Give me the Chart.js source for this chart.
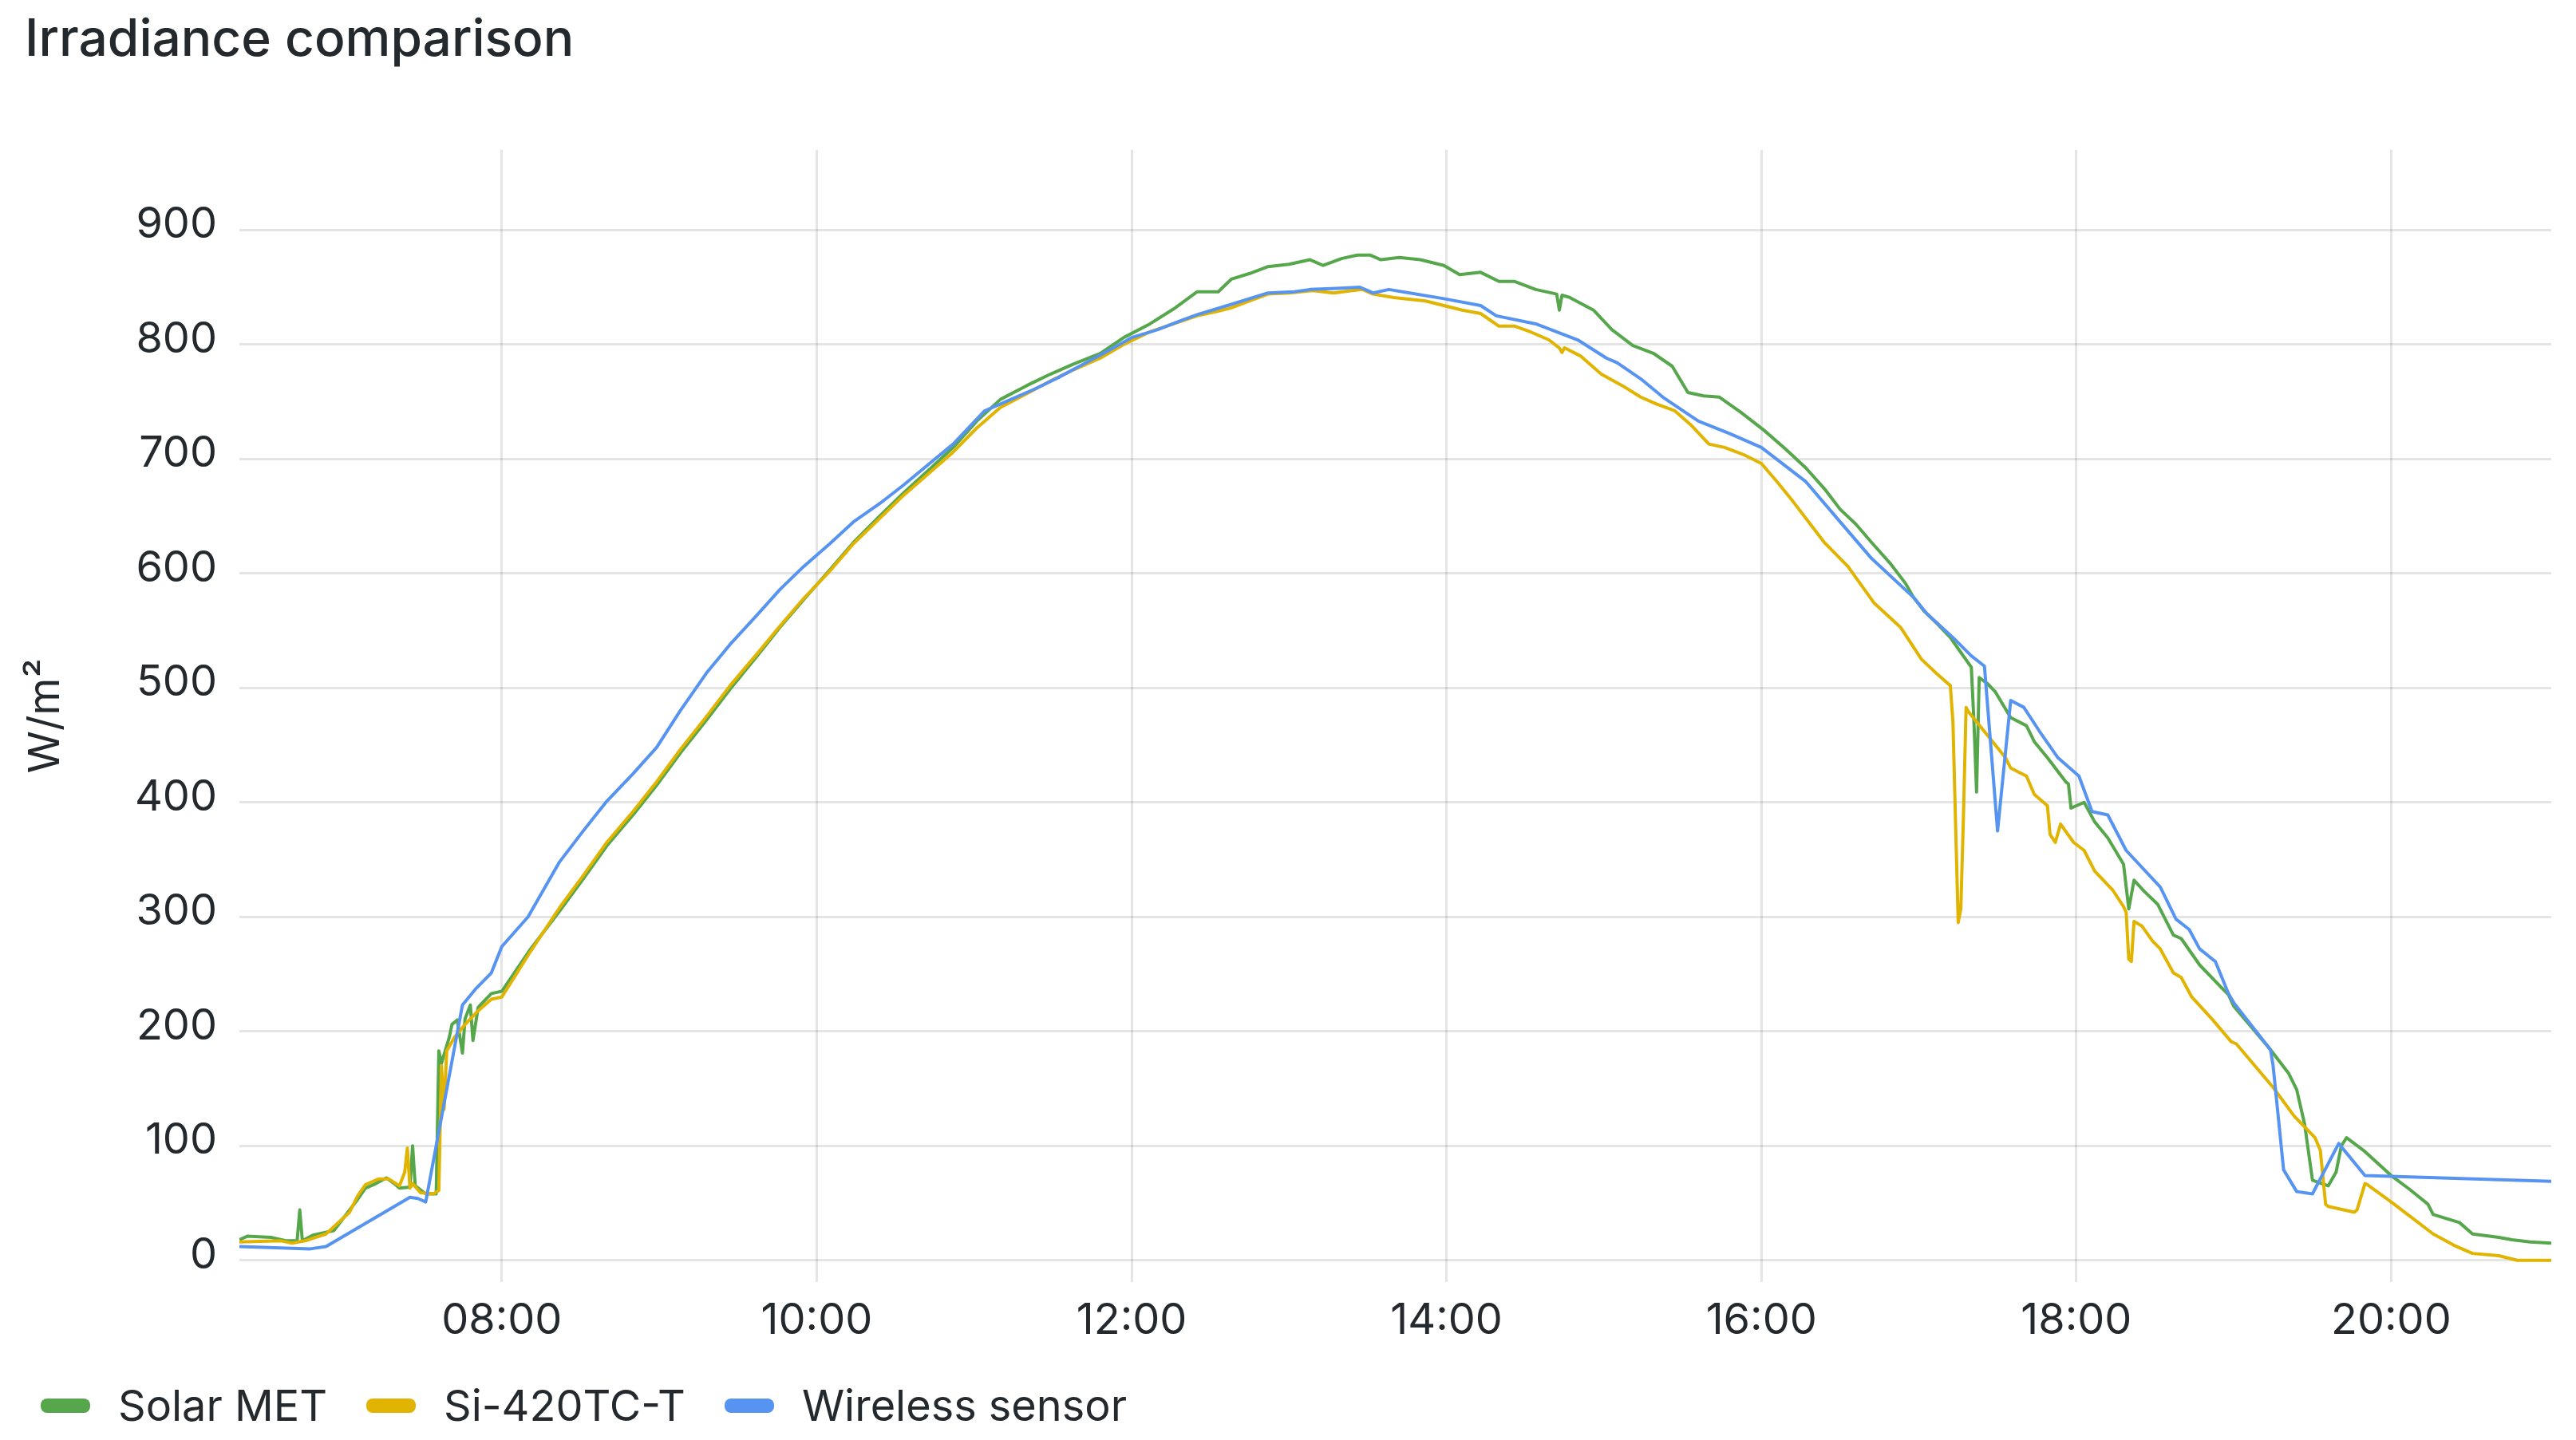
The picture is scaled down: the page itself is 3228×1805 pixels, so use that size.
<!DOCTYPE html>
<html>
<head>
<meta charset="utf-8">
<title>Irradiance comparison</title>
<script src="https://cdn.jsdelivr.net/npm/chart.js@4/dist/chart.umd.min.js"></script>
<style>
  html, body { margin: 0; padding: 0; background: #fff; }
  #panel { position: relative; width: 3228px; height: 1805px; font-family: Inter, sans-serif; color: rgb(36, 41, 46); }
  #chartBox { position: absolute; left: 0; top: 0; width: 3228px; height: 1720px; }
  #legend { position: absolute; left: 51px; top: 1735px; height: 54px; display: flex; align-items: center; font-size: 54px; line-height: 54px; }
  .item { display: flex; align-items: center; margin-right: 49px; }
  .swatch { width: 62px; height: 18px; border-radius: 8px; margin-right: 35px; }
</style>
</head>
<body>
<div id="panel">
  <div id="chartBox"><canvas id="irradianceChart"></canvas></div>
  <div id="legend"></div>
</div>
<script>
// readings as [time, W/m²]
const solarMet = [
  ['06:20', 18], ['06:23', 21], ['06:32', 20], ['06:38', 17], ['06:42', 17], ['06:43', 44], ['06:44', 17],
  ['06:48', 22], ['06:56', 26], ['07:05', 53], ['07:08', 63], ['07:12', 67], ['07:16', 72], ['07:19', 67],
  ['07:21', 63], ['07:25', 64], ['07:26', 100], ['07:27', 65], ['07:31', 58], ['07:35', 58], ['07:36', 183],
  ['07:37', 172], ['07:40', 195], ['07:41', 206], ['07:43', 210], ['07:45', 181], ['07:46', 211], ['07:48', 223],
  ['07:49', 192], ['07:51', 221], ['07:56', 233], ['08:00', 235], ['08:11', 272], ['08:22', 305], ['08:31', 333],
  ['08:40', 362], ['08:50', 389], ['08:59', 415], ['09:08', 443], ['09:18', 472], ['09:27', 499], ['09:37', 527],
  ['09:46', 553], ['09:55', 577], ['10:05', 603], ['10:14', 627], ['10:24', 650], ['10:33', 670], ['10:43', 691],
  ['10:52', 710], ['11:01', 733], ['11:10', 752], ['11:20', 764], ['11:29', 774], ['11:38', 783], ['11:48', 792],
  ['11:57', 806], ['12:07', 818], ['12:16', 831], ['12:25', 846], ['12:33', 846], ['12:38', 857], ['12:45', 862],
  ['12:52', 868], ['13:00', 870], ['13:08', 874], ['13:13', 869], ['13:20', 875], ['13:26', 878], ['13:31', 878],
  ['13:35', 874], ['13:42', 876], ['13:50', 874], ['13:59', 869], ['14:05', 861], ['14:13', 863], ['14:20', 855],
  ['14:26', 855], ['14:34', 848], ['14:42', 844], ['14:43', 830], ['14:44', 843], ['14:47', 841], ['14:56', 830],
  ['15:03', 813], ['15:11', 799], ['15:19', 792], ['15:26', 781], ['15:32', 758], ['15:38', 755], ['15:44', 754],
  ['15:52', 741], ['16:01', 725], ['16:09', 709], ['16:17', 692], ['16:24', 674], ['16:30', 656], ['16:36', 643],
  ['16:42', 627], ['16:49', 609], ['16:55', 591], ['16:58', 579], ['17:02', 567], ['17:07', 556], ['17:12', 544],
  ['17:16', 531], ['17:20', 518], ['17:21', 470], ['17:22', 409], ['17:23', 509], ['17:26', 504], ['17:29', 497],
  ['17:35', 474], ['17:41', 467], ['17:44', 453], ['17:49', 439], ['17:56', 418], ['17:57', 416], ['17:58', 395],
  ['18:03', 400], ['18:07', 383], ['18:12', 369], ['18:18', 346], ['18:20', 307], ['18:22', 332], ['18:26', 322],
  ['18:31', 311], ['18:37', 284], ['18:40', 281], ['18:47', 258], ['18:55', 239], ['18:58', 232], ['19:00', 222],
  ['19:07', 203], ['19:14', 184], ['19:21', 163], ['19:24', 149], ['19:27', 119], ['19:30', 70], ['19:36', 65],
  ['19:39', 77], ['19:41', 100], ['19:43', 107], ['19:50', 95], ['20:00', 74], ['20:07', 62], ['20:14', 49],
  ['20:16', 40], ['20:26', 33], ['20:31', 23], ['20:41', 20], ['20:46', 18], ['20:53', 16], ['21:01', 15],
];

const si420 = [
  ['06:20', 16], ['06:36', 17], ['06:40', 15], ['06:45', 17], ['06:53', 23], ['07:02', 42], ['07:05', 56],
  ['07:08', 66], ['07:13', 71], ['07:17', 71], ['07:21', 65], ['07:23', 77], ['07:24', 98], ['07:25', 63],
  ['07:26', 67], ['07:29', 59], ['07:34', 58], ['07:36', 61], ['07:37', 170], ['07:38', 132], ['07:39', 183],
  ['07:42', 195], ['07:46', 206], ['07:51', 218], ['07:56', 228], ['08:00', 230], ['08:11', 270], ['08:22', 308],
  ['08:31', 336], ['08:40', 365], ['08:50', 392], ['08:59', 418], ['09:08', 446], ['09:18', 475], ['09:27', 502],
  ['09:37', 529], ['09:46', 554], ['09:55', 578], ['10:05', 602], ['10:14', 626], ['10:24', 648], ['10:33', 668],
  ['10:43', 688], ['10:52', 706], ['11:01', 727], ['11:10', 745], ['11:20', 757], ['11:29', 768], ['11:38', 778],
  ['11:48', 788], ['11:57', 800], ['12:07', 811], ['12:16', 818], ['12:25', 825], ['12:33', 829], ['12:38', 832],
  ['12:45', 838], ['12:52', 844], ['13:00', 845], ['13:09', 847], ['13:17', 845], ['13:24', 847], ['13:28', 848],
  ['13:32', 844], ['13:40', 841], ['13:52', 838], ['13:59', 834], ['14:06', 830], ['14:13', 827], ['14:20', 816],
  ['14:26', 816], ['14:32', 811], ['14:39', 804], ['14:43', 797], ['14:44', 793], ['14:45', 797], ['14:51', 790],
  ['14:59', 774], ['15:07', 764], ['15:14', 754], ['15:20', 748], ['15:27', 742], ['15:33', 730], ['15:40', 713],
  ['15:46', 710], ['15:53', 704], ['16:00', 696], ['16:06', 680], ['16:12', 663], ['16:18', 645], ['16:24', 627],
  ['16:33', 606], ['16:38', 590], ['16:43', 574], ['16:53', 553], ['17:01', 525], ['17:07', 512], ['17:12', 502],
  ['17:13', 470], ['17:14', 381], ['17:15', 295], ['17:16', 307], ['17:17', 388], ['17:18', 483], ['17:19', 479],
  ['17:26', 459], ['17:33', 439], ['17:35', 430], ['17:41', 423], ['17:44', 407], ['17:49', 397], ['17:50', 372],
  ['17:52', 365], ['17:54', 381], ['17:59', 365], ['18:03', 358], ['18:07', 340], ['18:14', 323], ['18:18', 309],
  ['18:19', 304], ['18:20', 263], ['18:21', 261], ['18:22', 296], ['18:25', 292], ['18:29', 279], ['18:32', 272],
  ['18:37', 251], ['18:40', 247], ['18:44', 230], ['18:52', 210], ['18:59', 191], ['19:01', 189], ['19:08', 170],
  ['19:15', 151], ['19:23', 126], ['19:31', 107], ['19:33', 96], ['19:35', 49], ['19:36', 47], ['19:46', 42],
  ['19:47', 44], ['19:50', 67], ['19:51', 66], ['20:00', 51], ['20:08', 37], ['20:16', 23], ['20:24', 13],
  ['20:31', 6], ['20:41', 4], ['20:48', 0], ['21:01', 0],
];

const wireless = [
  ['06:20', 12], ['06:47', 10], ['06:53', 12], ['07:25', 55], ['07:28', 54], ['07:31', 51], ['07:45', 223],
  ['07:50', 237], ['07:56', 251], ['08:00', 274], ['08:10', 300], ['08:22', 348], ['08:31', 375], ['08:40', 401],
  ['08:50', 425], ['08:59', 448], ['09:08', 480], ['09:18', 513], ['09:27', 538], ['09:37', 563], ['09:46', 586],
  ['09:55', 606], ['10:05', 626], ['10:14', 645], ['10:24', 661], ['10:33', 677], ['10:43', 696], ['10:52', 713],
  ['11:04', 742], ['11:13', 751], ['11:23', 761], ['11:32', 771], ['11:41', 782], ['11:50', 793], ['12:00', 806],
  ['12:10', 813], ['12:19', 821], ['12:25', 826], ['12:38', 835], ['12:52', 845], ['13:02', 846], ['13:08', 848],
  ['13:18', 849], ['13:27', 850], ['13:32', 845], ['13:38', 848], ['13:46', 845], ['13:59', 840], ['14:13', 834],
  ['14:19', 825], ['14:34', 818], ['14:50', 804], ['15:01', 788], ['15:05', 784], ['15:14', 770], ['15:23', 753],
  ['15:36', 733], ['15:48', 722], ['16:00', 710], ['16:17', 680], ['16:30', 645], ['16:42', 613], ['16:58', 579],
  ['17:03', 565], ['17:13', 544], ['17:20', 528], ['17:25', 519], ['17:30', 375], ['17:35', 489], ['17:40', 483],
  ['17:46', 462], ['17:53', 439], ['18:01', 423], ['18:06', 392], ['18:12', 389], ['18:19', 358], ['18:32', 326],
  ['18:38', 298], ['18:43', 289], ['18:47', 272], ['18:53', 261], ['18:58', 233], ['19:00', 225], ['19:14', 184],
  ['19:15', 170], ['19:19', 79], ['19:24', 60], ['19:30', 58], ['19:40', 102], ['19:50', 74], ['21:01', 69],
];

const xTicks = ['08:00', '10:00', '12:00', '14:00', '16:00', '18:00', '20:00'];
const yTicks = [0, 100, 200, 300, 400, 500, 600, 700, 800, 900];

const series = [
  { label: 'Solar MET', rows: solarMet, color: '#56A64B' },
  { label: 'Si-420TC-T', rows: si420, color: '#E0B400' },
  { label: 'Wireless sensor', rows: wireless, color: '#5794F2' },
];

const textColor = 'rgb(36, 41, 46)';
const gridColor = 'rgba(0, 0, 0, 0.1)';

function toHours(s) {
  const [h, m] = s.split(':').map(Number);
  return h + m / 60;
}

function hourLabel(v) {
  const h = Math.floor(v + 1e-6);
  const m = Math.round((v - h) * 60);
  return String(h).padStart(2, '0') + ':' + String(m).padStart(2, '0');
}

const datasets = series.map((s, i) => ({
  label: s.label,
  data: s.rows.map(([t, v]) => ({ x: toHours(t), y: v })),
  borderColor: s.color,
  backgroundColor: s.color,
  borderWidth: 4,
  borderJoinStyle: 'round',
  pointRadius: 0,
  tension: 0,
  order: series.length - i, // last series ends up on top
}));

const ctx = document.getElementById('irradianceChart');

new Chart(ctx, {
  type: 'line',
  data: { datasets: datasets },
  options: {
    responsive: true,
    maintainAspectRatio: false,
    animation: false,
    layout: { padding: { left: 31, right: 31, top: 0, bottom: 0 } },
    plugins: {
      legend: { display: false },
      tooltip: { enabled: false },
      title: {
        display: true,
        text: 'Irradiance comparison',
        align: 'start',
        color: textColor,
        font: { family: 'Inter', size: 64, weight: 500, lineHeight: 1.2 },
        padding: { top: 12, bottom: 99 },
      },
    },
    scales: {
      x: {
        type: 'linear',
        min: toHours('06:20'),
        max: toHours('21:01'),
        afterBuildTicks: (scale) => {
          scale.ticks = xTicks.map(t => ({ value: toHours(t) }));
        },
        afterFit: (scale) => { scale.height = 113; },
        grid: { color: gridColor, lineWidth: 3, drawTicks: false },
        border: { display: false },
        ticks: {
          color: textColor,
          font: { family: 'Inter', size: 54 },
          padding: 16,
          maxRotation: 0,
          callback: (v) => hourLabel(v),
        },
      },
      y: {
        min: -19,
        max: 970,
        afterBuildTicks: (scale) => {
          scale.ticks = yTicks.map(v => ({ value: v }));
        },
        afterFit: (scale) => { scale.width = 269; },
        grid: { color: gridColor, lineWidth: 3, drawTicks: false },
        border: { display: false },
        title: {
          display: true,
          text: 'W/m²',
          color: textColor,
          font: { family: 'Inter', size: 54 },
          padding: { top: -6, bottom: 0 },
        },
        ticks: {
          color: textColor,
          font: { family: 'Inter', size: 54 },
          padding: 28,
          labelOffset: -6,
        },
      },
    },
  },
});

// legend row under the plot
const legendEl = document.getElementById('legend');
series.forEach(s => {
  const item = document.createElement('div');
  item.className = 'item';
  const sw = document.createElement('span');
  sw.className = 'swatch';
  sw.style.background = s.color;
  const txt = document.createElement('span');
  txt.textContent = s.label;
  item.appendChild(sw);
  item.appendChild(txt);
  legendEl.appendChild(item);
});
</script>
</body>
</html>
